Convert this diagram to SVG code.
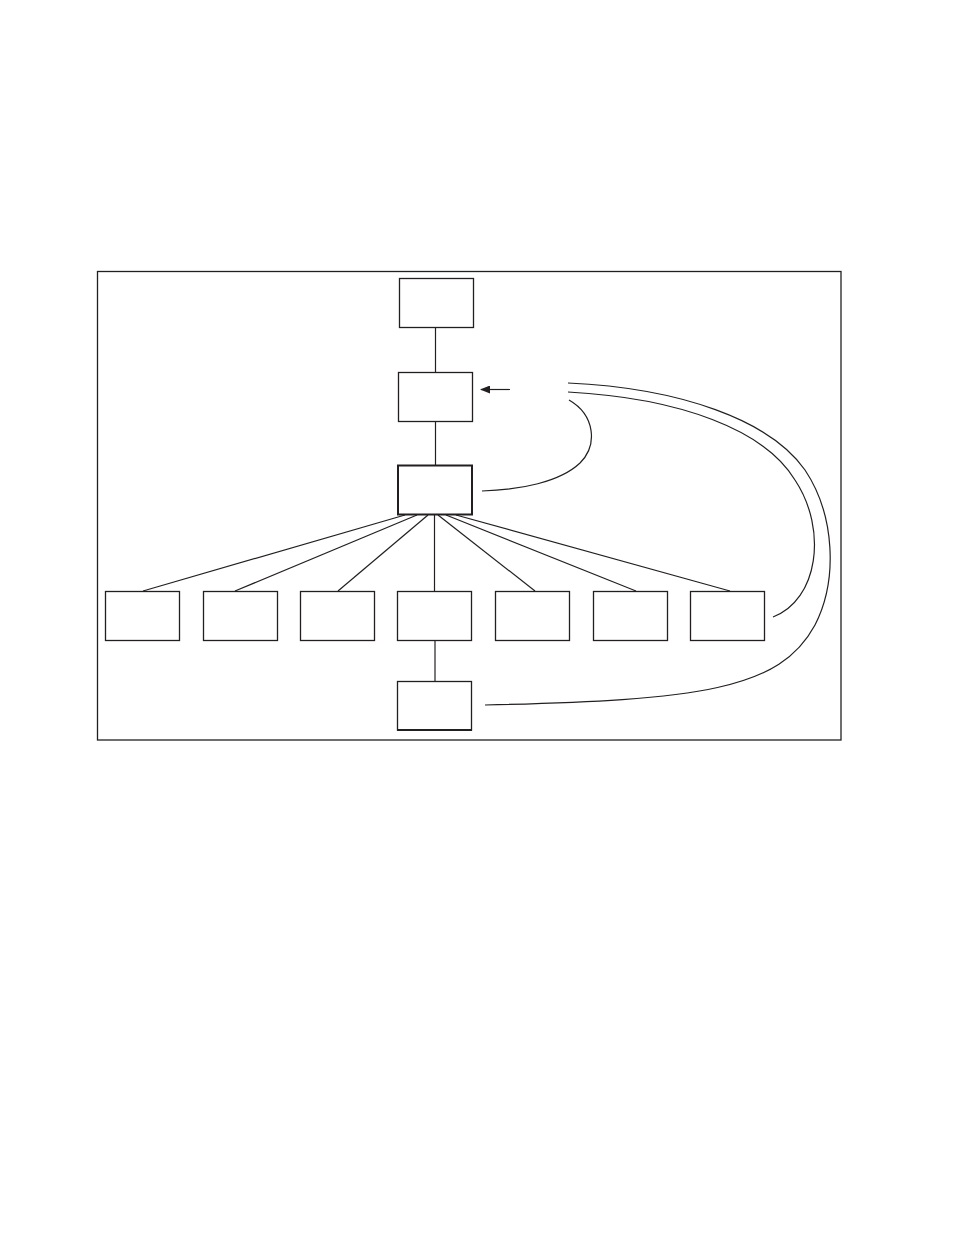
<svg xmlns="http://www.w3.org/2000/svg" width="954" height="1235" viewBox="0 0 954 1235">
<style>
.box{fill:#fff;stroke:#231f20;stroke-width:1.3}
.thick{stroke-width:2}
.ln{fill:none;stroke:#231f20;stroke-width:1.2}
</style>
<defs>
<marker id="ah" markerWidth="10" markerHeight="8" refX="9" refY="4" orient="auto" markerUnits="userSpaceOnUse">
<path d="M0,0 L10,4 L0,8 Z" fill="#231f20"/>
</marker>
</defs>
<rect width="954" height="1235" fill="#fff"/>
<rect id="frame" x="97.5" y="271.5" width="743.5" height="468.5" fill="none" stroke="#231f20" stroke-width="1.3"/>
<g id="connectors">
<line class="ln" x1="435.5" y1="327" x2="435.5" y2="372"/>
<line class="ln" x1="435.5" y1="421" x2="435.5" y2="465"/>
<line class="ln" x1="405" y1="515" x2="143" y2="591"/>
<line class="ln" x1="417" y1="515" x2="235" y2="591"/>
<line class="ln" x1="428" y1="515" x2="338" y2="591"/>
<line class="ln" x1="434.5" y1="515" x2="434.5" y2="591"/>
<line class="ln" x1="438" y1="515" x2="535" y2="591"/>
<line class="ln" x1="446" y1="515" x2="636" y2="591"/>
<line class="ln" x1="456" y1="515" x2="730" y2="591"/>
<line class="ln" x1="435" y1="640" x2="435" y2="681" stroke-width="2"/>
<line class="ln" x1="510" y1="389.5" x2="481" y2="389.5" marker-end="url(#ah)"/>
<path class="ln" d="M569,400 C595,415 598,445 580,463 C560,482 520,490 482,491"/>
<path class="ln" d="M568,392 C680,398 765,430 795,480 C828,530 818,600 773,617"/>
<path class="ln" d="M568,383 C680,388 770,420 805,470 C835,515 838,580 815,625 C780,690 700,700 485,705"/>
</g>
<g id="n1"><rect class="box" x="399.5" y="278.5" width="74" height="49"/></g>
<g id="n2"><rect class="box" x="398.5" y="372.5" width="74" height="49"/></g>
<g id="n3"><rect class="box thick" x="398" y="465.5" width="74" height="49"/></g>
<g id="c1"><rect class="box" x="105.5" y="591.5" width="74" height="49"/></g>
<g id="c2"><rect class="box" x="203.5" y="591.5" width="74" height="49"/></g>
<g id="c3"><rect class="box" x="300.5" y="591.5" width="74" height="49"/></g>
<g id="c4"><rect class="box" x="397.5" y="591.5" width="74" height="49"/></g>
<g id="c5"><rect class="box" x="495.5" y="591.5" width="74" height="49"/></g>
<g id="c6"><rect class="box" x="593.5" y="591.5" width="74" height="49"/></g>
<g id="c7"><rect class="box" x="690.5" y="591.5" width="74" height="49"/></g>
<g id="n4"><rect class="box" x="397.5" y="681.5" width="74" height="48.5"/><line x1="397" y1="730" x2="472" y2="730" stroke="#231f20" stroke-width="2"/></g>
</svg>
